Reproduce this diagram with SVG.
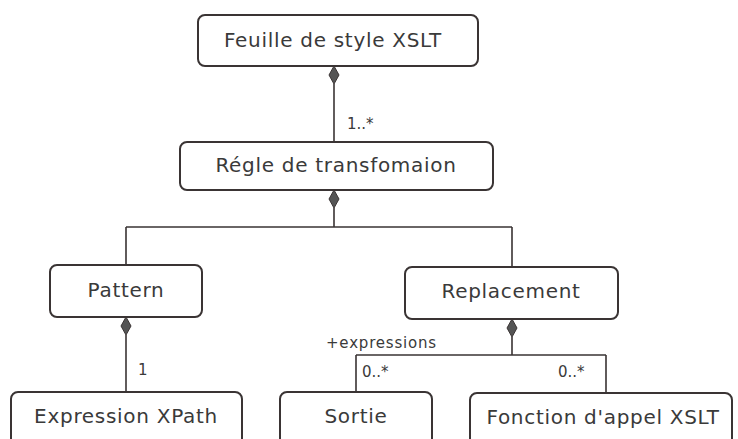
<svg xmlns="http://www.w3.org/2000/svg" width="738" height="439" viewBox="0 0 738 439">
<style>
.box{fill:#fff;stroke:#3a3434;stroke-width:2}
.lbl{font-family:"DejaVu Sans",sans-serif;font-size:20px;letter-spacing:0.7px;fill:#3a3a3a;text-anchor:middle}
.m{font-family:"DejaVu Sans",sans-serif;font-size:15px;fill:#3a3a3a}
.ln{fill:none;stroke:#3a3434;stroke-width:1.6}
.dia{fill:#555;stroke:#3a3434;stroke-width:1}
</style>
<rect width="738" height="439" fill="#fff"/>
<g id="connectors">
<path class="ln" d="M334 84V142"/>
<path class="dia" d="M334 66L339 75L334 84L329 75Z"/>
<path class="ln" d="M334 208V227M126 227H512M126 227V265M512 227V267"/>
<path class="dia" d="M334 190L339 199L334 208L329 199Z"/>
<path class="ln" d="M126 335V392"/>
<path class="dia" d="M126 317L131 326L126 335L121 326Z"/>
<path class="ln" d="M512 337V355M356 355H606M356 355V392M606 355V393"/>
<path class="dia" d="M512 319L517 328L512 337L507 328Z"/>
<text class="m" x="347" y="129">1..*</text>
<text class="m" x="138" y="375">1</text>
<text class="m" x="326" y="348" font-size="17" letter-spacing="0.8">+expressions</text>
<text class="m" x="362" y="377">0..*</text>
<text class="m" x="558" y="377">0..*</text>
</g>
<g id="feuille"><rect class="box" x="198" y="15" width="280" height="51" rx="7"/><text class="lbl" x="333" y="47">Feuille de style XSLT</text></g>
<g id="regle"><rect class="box" x="180" y="142" width="313" height="48" rx="7"/><text class="lbl" x="336" y="172">Régle de transfomaion</text></g>
<g id="pattern"><rect class="box" x="50" y="265" width="152" height="52" rx="7"/><text class="lbl" x="126" y="297">Pattern</text></g>
<g id="replacement"><rect class="box" x="405" y="267" width="213" height="52" rx="7"/><text class="lbl" x="511" y="298">Replacement</text></g>
<g id="xpath"><rect class="box" x="11" y="392" width="231" height="60" rx="7"/><text class="lbl" x="126" y="423">Expression XPath</text></g>
<g id="sortie"><rect class="box" x="280" y="392" width="152" height="60" rx="7"/><text class="lbl" x="356" y="423">Sortie</text></g>
<g id="fonction"><rect class="box" x="470" y="393" width="262" height="60" rx="7"/><text class="lbl" x="603" y="424">Fonction d'appel XSLT</text></g>
</svg>
